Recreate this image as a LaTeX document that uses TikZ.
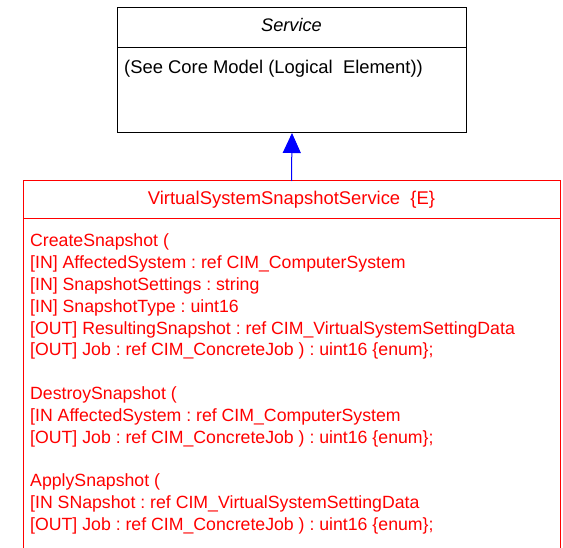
\documentclass[tikz,border=0pt]{standalone}
\usepackage{fontspec}
\setmainfont{Liberation Sans}
\usetikzlibrary{arrows.meta}
\definecolor{umlred}{RGB}{255,0,0}
\frenchspacing
\tikzset{
  txt/.style={anchor=base west, inner sep=0pt, font=\fontsize{17.7}{21}\selectfont},
  rtxt/.style={txt, text=umlred},
  ctxt/.style={anchor=base, inner sep=0pt, font=\fontsize{18.4}{21}\selectfont},
}
\begin{document}
\begin{tikzpicture}[x=1pt,y=-1pt]
\useasboundingbox (0,0) rectangle (563,548);
% Service box
\node[draw=black, line width=1pt, minimum width=349pt, minimum height=125pt, inner sep=0pt, anchor=north west] (svc) at (117,7) {};
\draw[black, line width=1pt] (117,48) -- (466,48);
\node[ctxt, font=\fontsize{18.2}{21}\selectfont] (svct) at (291.5,32) {\itshape Service};
\node[txt, font=\fontsize{18.4}{21}\selectfont] (svcn) at (124,74) {(See Core Model (Logical\ \ Element))};
% Red box
\coordinate (rtop) at (291.5,181);
\draw[umlred, line width=1pt] (23,548) -- (23,181) -- (560,181) -- (560,548);
\draw[umlred, line width=1pt] (23,219) -- (560,219);
\node[ctxt, text=umlred] (rt) at (291.5,205) {VirtualSystemSnapshotService\ \ \{E\}};
% Methods
\node[rtxt] (a0) at (30,247) {CreateSnapshot (};
\node[rtxt] (a1) at (30,268.8) {[IN] AffectedSystem : ref CIM\_ComputerSystem};
\node[rtxt] (a2) at (30,290.5) {[IN] SnapshotSettings : string};
\node[rtxt] (a3) at (30,312.3) {[IN] SnapshotType : uint16};
\node[rtxt] (a4) at (30,334.1) {[OUT] ResultingSnapshot : ref CIM\_VirtualSystemSettingData};
\node[rtxt] (a5) at (30,355.9) {[OUT] Job : ref CIM\_ConcreteJob ) : uint16 \{enum\};};
\node[rtxt] (b0) at (30,399.4) {DestroySnapshot (};
\node[rtxt] (b1) at (30,421.2) {[IN AffectedSystem : ref CIM\_ComputerSystem};
\node[rtxt] (b2) at (30,443) {[OUT] Job : ref CIM\_ConcreteJob ) : uint16 \{enum\};};
\node[rtxt] (c0) at (30,486.5) {ApplySnapshot (};
\node[rtxt] (c1) at (30,508.3) {[IN SNapshot : ref CIM\_VirtualSystemSettingData};
\node[rtxt] (c2) at (30,530) {[OUT] Job : ref CIM\_ConcreteJob ) : uint16 \{enum\};};
% Generalization arrow
\draw[blue, line width=1pt, -{Triangle[width=18pt,length=20pt]}] (rtop) -- (svc.south);
\end{tikzpicture}
\end{document}
